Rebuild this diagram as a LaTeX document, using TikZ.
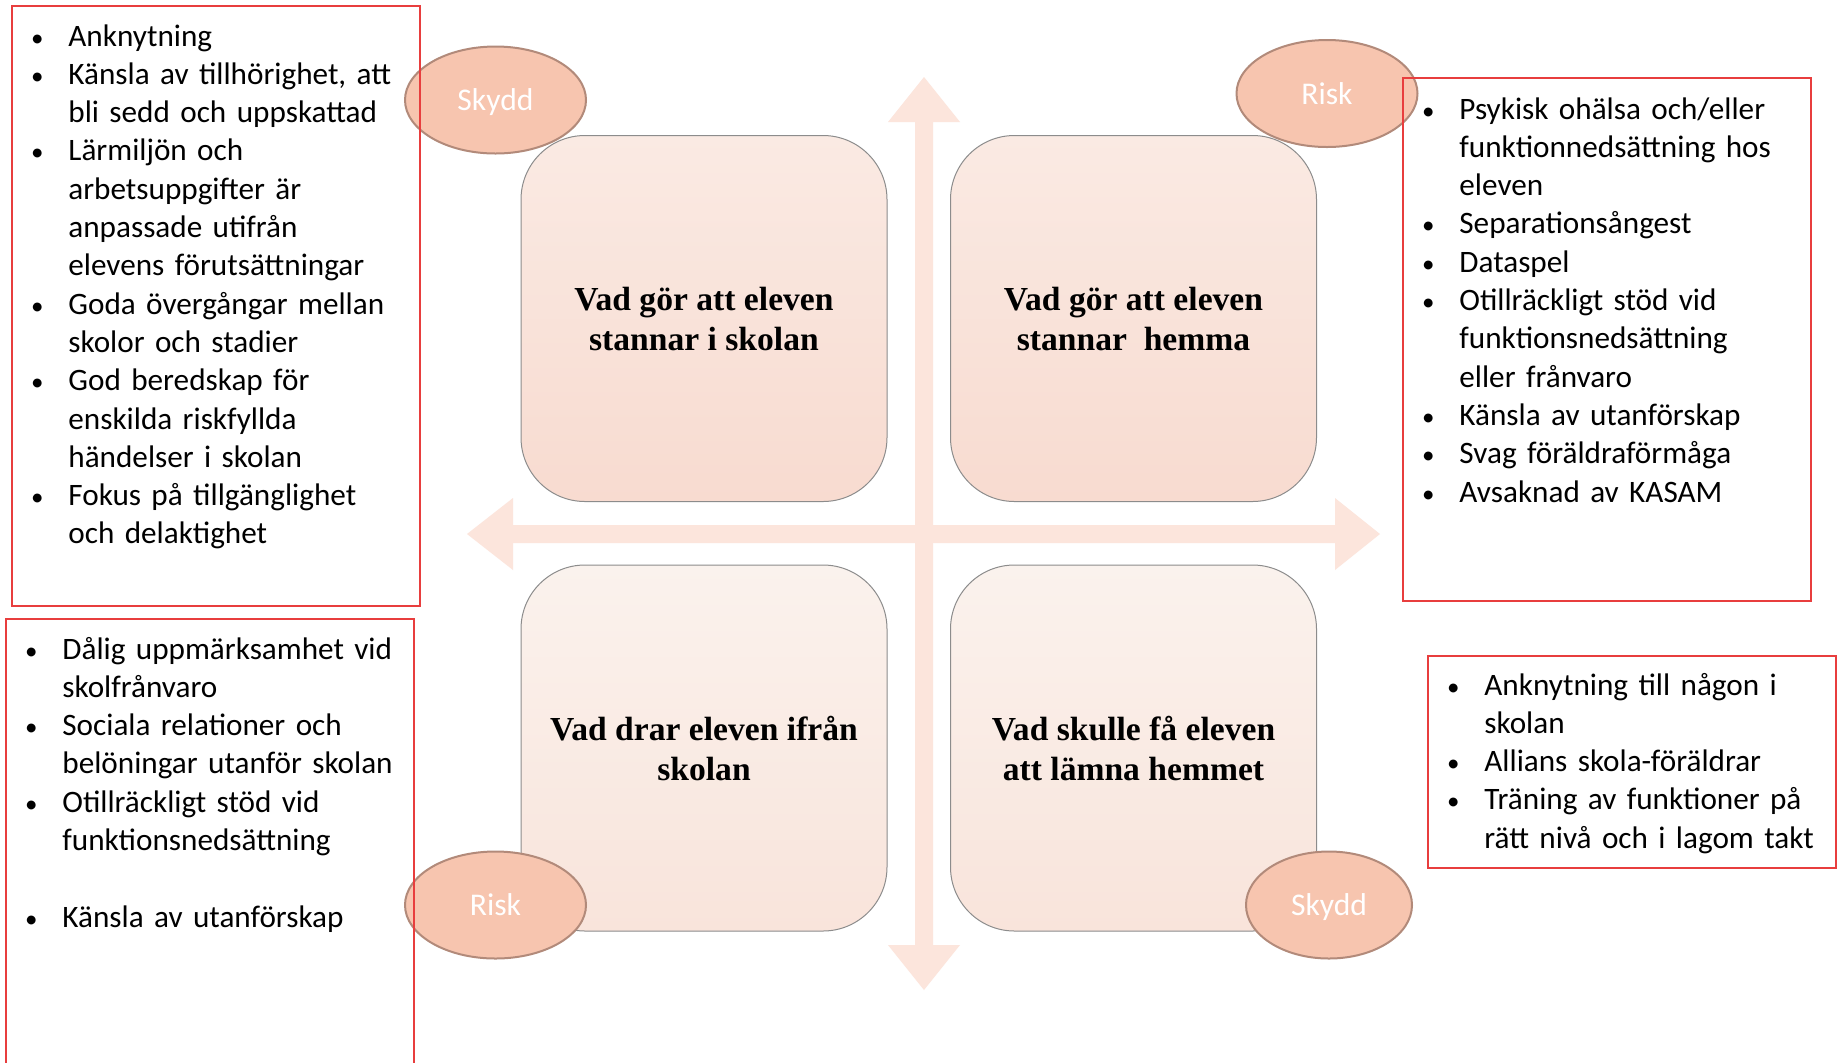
\documentclass[tikz,border=0pt]{standalone}
\usepackage{fontspec}
\setmainfont{Carlito}
\newfontfamily\titlefont{Liberation Serif}
\usetikzlibrary{shapes.geometric}
\definecolor{arrowpink}{RGB}{252,229,220}
\definecolor{ovalfill}{RGB}{247,197,175}
\definecolor{ovalline}{RGB}{178,138,122}
\definecolor{listred}{RGB}{232,62,62}
\definecolor{quadtop}{RGB}{250,234,227}
\definecolor{quadbot}{RGB}{248,219,208}
\definecolor{quadtopl}{RGB}{250,242,237}
\definecolor{quadbotl}{RGB}{249,228,219}
\newcommand{\bitem}[1]{\noindent\llap{\makebox[0pt][c]{\scalebox{0.8}{\textbullet}}\hspace{15.5pt}}#1\par}
\begin{document}
\begin{tikzpicture}[x=0.5pt,y=-0.5pt,
	quad/.style={draw=black!45, line width=0.5pt, rounded corners=32pt, minimum width=183pt, minimum height=183pt, inner sep=0pt, align=center, font=\titlefont\bfseries\fontsize{16.8}{20}\selectfont},
	oval/.style={ellipse, draw=ovalline, line width=1pt, fill=ovalfill, minimum width=90.5pt, minimum height=53.5pt, inner sep=0pt, text depth=0pt, text=white, font=\fontsize{15.8}{19}\selectfont},
	redbox/.style={draw=listred, line width=1pt},
	bullets/.style={anchor=base west, inner sep=0pt, text width=190pt, align=left, font=\fontsize{15.6}{19.15}\selectfont}]
	\path[fill=white,use as bounding box] (0,0) rectangle (1837,1062);
	% cross of arrows
	\fill[arrowpink] (924,77) -- (960,122) -- (933,122) -- (933,945) -- (960,945) -- (924,990) -- (888,945) -- (915,945) -- (915,122) -- (888,122) -- cycle;
	\fill[arrowpink] (467,534) -- (513,498) -- (513,525) -- (1335,525) -- (1335,498) -- (1380,534) -- (1335,570) -- (1335,543) -- (513,543) -- (513,570) -- cycle;
	% the four questions
	\node[quad, top color=quadtop, bottom color=quadbot] (stayschool) at (704,318.5) {Vad gör att eleven\\stannar i skolan};
	\node[quad, top color=quadtop, bottom color=quadbot] (stayhome) at (1133.5,318.5) {Vad gör att eleven\\stannar\ \ hemma};
	\node[quad, top color=quadtopl, bottom color=quadbotl] (pullaway) at (704,748) {Vad drar eleven ifrån\\skolan};
	\node[quad, top color=quadtopl, bottom color=quadbotl] (leavehome) at (1133.5,748) {Vad skulle få eleven\\att lämna hemmet};
	% ovals
	\node[oval] (skyddA) at (495.5,100) {Skydd};
	\node[oval] (riskA) at (1327,93.5) {Risk};
	\node[oval] (riskB) at (495.5,905) {Risk};
	\node[oval, minimum width=83pt] (skyddB) at (1329,905) {Skydd};
	% lists
	\node[bullets] (skyddListA) at (68,46) {%
		\bitem{Anknytning}
		\bitem{Känsla av tillhörighet, att\\bli sedd och uppskattad}
		\bitem{Lärmiljön och\\arbetsuppgifter är\\anpassade utifrån\\elevens förutsättningar}
		\bitem{Goda övergångar mellan\\skolor och stadier}
		\bitem{God beredskap för\\enskilda riskfyllda\\händelser i skolan}
		\bitem{Fokus på tillgänglighet\\och delaktighet}};
	\node[bullets] (riskListA) at (1459,119) {%
		\bitem{Psykisk ohälsa och/eller\\funktionnedsättning hos\\eleven}
		\bitem{Separationsångest}
		\bitem{Dataspel}
		\bitem{Otillräckligt stöd vid\\funktionsnedsättning\\eller frånvaro}
		\bitem{Känsla av utanförskap}
		\bitem{Svag föräldraförmåga}
		\bitem{Avsaknad av KASAM}};
	\node[bullets] (riskListB) at (62,659) {%
		\bitem{Dålig uppmärksamhet vid\\skolfrånvaro}
		\bitem{Sociala relationer och\\belöningar utanför skolan}
		\bitem{Otillräckligt stöd vid\\funktionsnedsättning}
		\mbox{}\par
		\bitem{Känsla av utanförskap}};
	\node[bullets] (skyddListB) at (1484,695) {%
		\bitem{Anknytning till någon i\\skolan}
		\bitem{Allians skola-föräldrar}
		\bitem{Träning av funktioner på\\rätt nivå och i lagom takt}};
	% red frames
	\draw[redbox] (12,6) rectangle (420,606);
	\draw[redbox] (6,619) rectangle (414,1080);
	\draw[redbox] (1403,78) rectangle (1811,601);
	\draw[redbox] (1428,656) rectangle (1836,868);
\end{tikzpicture}
\end{document}
